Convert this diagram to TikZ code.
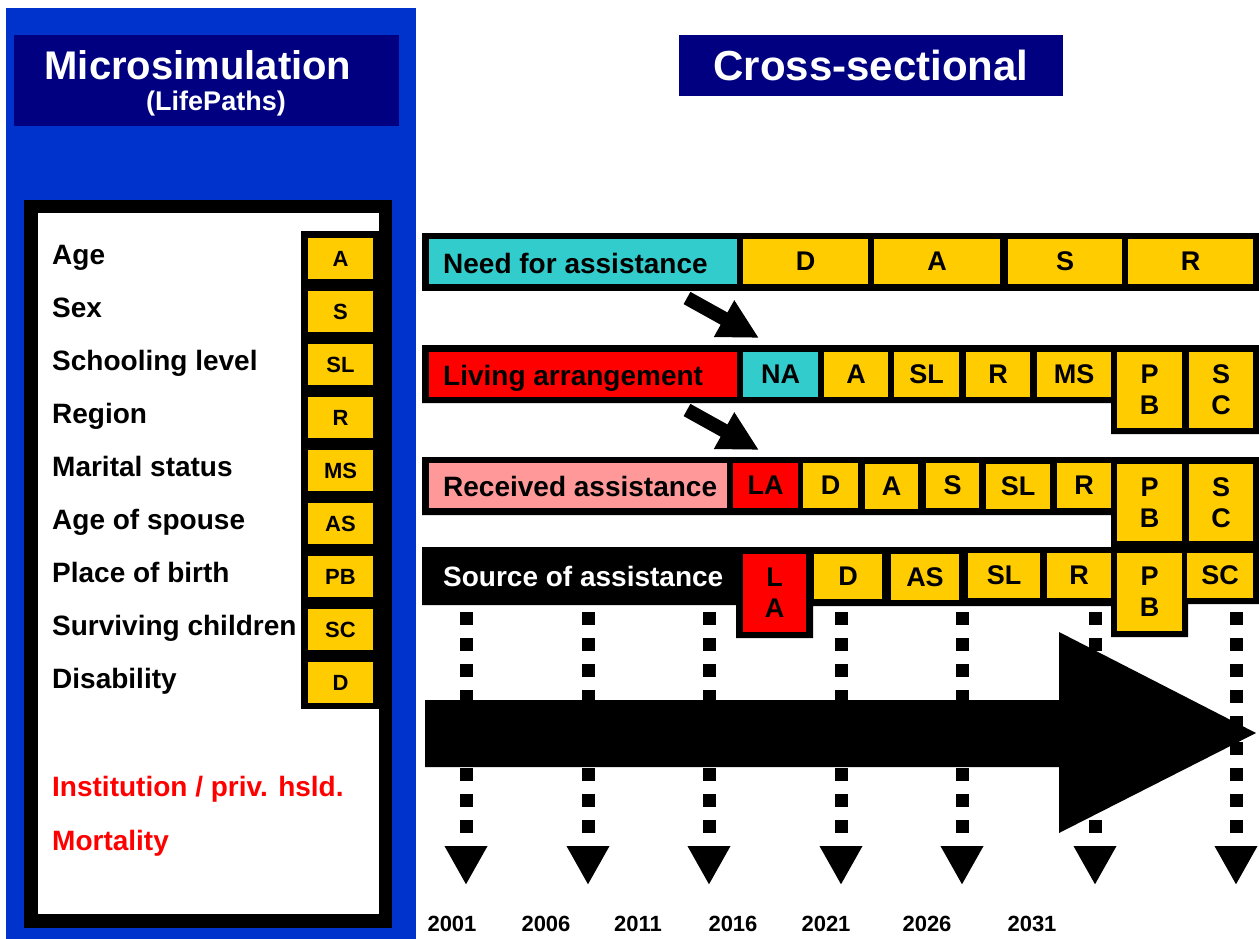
\documentclass[tikz,border=0pt]{standalone}
\usepackage{fontspec}
\setmainfont{Liberation Sans}
\usetikzlibrary{arrows.meta}
\definecolor{panelblue}{RGB}{0,51,204}
\definecolor{titlenavy}{RGB}{0,0,128}
\definecolor{codeyellow}{RGB}{255,204,0}
\definecolor{needteal}{RGB}{51,204,204}
\definecolor{livingred}{RGB}{255,0,0}
\definecolor{receivedpink}{RGB}{255,153,153}
% cell from (x1,y1) to (x2,y2): name, x1, y1, x2, y2, style, text
\newcommand{\cellbox}[7]{%
    \node[#6, minimum width={(#4-#2)*1pt}, minimum height={(#5-#3)*1pt}]
        (#1) at ({(#2+#4)/2},{(#3+#5)/2}) {#7};}

\begin{document}
\begin{tikzpicture}[x=1pt, y=-1pt,
    cell/.style={inner sep=0pt, fill=codeyellow, font=\fontsize{27}{31}\selectfont\bfseries, align=center},
    sidecell/.style={cell, font=\fontsize{22}{25}\selectfont\bfseries},
    varlabel/.style={anchor=base west, inner sep=0pt, font=\fontsize{28}{32}\selectfont\bfseries},
    year/.style={inner sep=0pt, font=\fontsize{22}{26}\selectfont\bfseries},
    timeline/.style={line width=13pt, dash pattern=on 13pt off 13pt, -{Triangle[length=39pt,width=40pt]}},
    pointer/.style={line width=14pt, -{Triangle[length=40pt,width=39pt]}}]
    \useasboundingbox (0,0) rectangle (1259,939);

    % Microsimulation panel
    \fill[panelblue] (6,8) rectangle (416,939);
    \cellbox{microBox}{14}{35}{399}{126}{cell, fill=titlenavy}{}
    \node[text=white, font=\fontsize{40}{48}\selectfont\bfseries] (microTitle) at (198,65) {Microsimulation};
    \node[text=white, font=\fontsize{27}{31}\selectfont\bfseries] (lifePaths) at (216,104) {(LifePaths)};
    \fill[black] (24,200) rectangle (392,928);
    \fill[white] (38,213) rectangle (379,914);
    \fill[black] (301,231) rectangle (379,709);

    \node[varlabel] (ageLab) at (52,264) {Age};
    \cellbox{ageCode}{308}{238}{373}{279}{sidecell}{A}
    \node[varlabel] (sexLab) at (52,317) {Sex};
    \cellbox{sexCode}{308}{291}{373}{332}{sidecell}{S}
    \node[varlabel] (schoolLab) at (52,370) {Schooling level};
    \cellbox{schoolCode}{308}{344}{373}{385}{sidecell}{SL}
    \node[varlabel] (regionLab) at (52,423) {Region};
    \cellbox{regionCode}{308}{397}{373}{438}{sidecell}{R}
    \node[varlabel] (maritalLab) at (52,476) {Marital status};
    \cellbox{maritalCode}{308}{450}{373}{491}{sidecell}{MS}
    \node[varlabel] (spouseLab) at (52,529) {Age of spouse};
    \cellbox{spouseCode}{308}{503}{373}{544}{sidecell}{AS}
    \node[varlabel] (birthLab) at (52,582) {Place of birth};
    \cellbox{birthCode}{308}{556}{373}{597}{sidecell}{PB}
    \node[varlabel] (childLab) at (52,635) {Surviving children};
    \cellbox{childCode}{308}{609}{373}{650}{sidecell}{SC}
    \node[varlabel] (disabLab) at (52,688) {Disability};
    \cellbox{disabCode}{308}{662}{373}{703}{sidecell}{D}

    \node[varlabel, text=livingred] (instLab) at (52,796) {Institution / priv. hsld.};
    \node[varlabel, text=livingred] (mortLab) at (52,850) {Mortality};

    % Cross-sectional side
    \cellbox{crossTitle}{679}{35}{1063}{96}{cell, fill=titlenavy, text=white,
        font=\fontsize{42}{50}\selectfont\bfseries}{Cross-sectional}

    % Need for assistance
    \fill[black] (422,233) rectangle (1259,291);
    \cellbox{needBox}{429}{239}{737}{284}{cell, fill=needteal}{}
    \node[varlabel] (needLab) at (443,273) {Need for assistance};
    \cellbox{needD}{743}{239}{868}{284}{cell}{D}
    \cellbox{needA}{874}{239}{1000}{284}{cell}{A}
    \cellbox{needS}{1008}{239}{1122}{284}{cell}{S}
    \cellbox{needR}{1128}{239}{1253}{284}{cell}{R}

    % Living arrangement
    \fill[black] (422,345) -- (1259,345) -- (1259,434) -- (1111,434) -- (1111,403) -- (422,403) -- cycle;
    \cellbox{livBox}{429}{352}{737}{397}{cell, fill=livingred}{}
    \node[varlabel] (livLab) at (443,385) {Living arrangement};
    \cellbox{livNA}{743}{352}{818}{397}{cell, fill=needteal}{NA}
    \cellbox{livA}{824}{352}{888}{397}{cell}{A}
    \cellbox{livSL}{894}{352}{959}{397}{cell}{SL}
    \cellbox{livR}{966}{352}{1030}{397}{cell}{R}
    \cellbox{livMS}{1037}{352}{1111}{397}{cell}{MS}
    \cellbox{livPB}{1117}{352}{1182}{428}{cell}{P\\B}
    \cellbox{livSC}{1189}{352}{1253}{428}{cell}{S\\C}

    % Received assistance
    \fill[black] (422,457) -- (1259,457) -- (1259,547) -- (1111,547) -- (1111,515) -- (422,515) -- cycle;
    \cellbox{recBox}{429}{463}{727}{508}{cell, fill=receivedpink}{}
    \node[varlabel] (recLab) at (443,496) {Received assistance};
    \cellbox{recLA}{733}{463}{798}{508}{cell, fill=livingred}{LA}
    \cellbox{recD}{803}{463}{858}{508}{cell}{D}
    \cellbox{recA}{865}{464}{918}{509}{cell}{A}
    \cellbox{recS}{926}{463}{979}{508}{cell}{S}
    \cellbox{recSL}{986}{464}{1050}{509}{cell}{SL}
    \cellbox{recR}{1057}{463}{1111}{508}{cell}{R}
    \cellbox{recPB}{1117}{464}{1182}{541}{cell}{P\\B}
    \cellbox{recSC}{1189}{464}{1253}{541}{cell}{S\\C}

    % Source of assistance
    \fill[black] (422,547) -- (1259,547) -- (1259,604) -- (1188,604) -- (1188,637) -- (1111,637)
        -- (1111,606) -- (813,606) -- (813,638) -- (736,638) -- (736,605) -- (422,605) -- cycle;
    \node[varlabel, text=white] (srcLab) at (443,586) {Source of assistance};
    \cellbox{srcLA}{743}{554}{806}{632}{cell, fill=livingred}{L\\A}
    \cellbox{srcD}{814}{554}{882}{599}{cell}{D}
    \cellbox{srcAS}{891}{554}{959}{600}{cell}{AS}
    \cellbox{srcSL}{968}{553}{1040}{598}{cell}{SL}
    \cellbox{srcR}{1047}{553}{1111}{598}{cell}{R}
    \cellbox{srcPB}{1117}{553}{1182}{631}{cell}{P\\B}
    \cellbox{srcSC}{1187}{553}{1253}{598}{cell}{SC}

    % arrows between rows
    \coordinate (needTail) at (687,298);
    \coordinate (needTip) at (759,338);
    \coordinate (livTail) at (687,410);
    \coordinate (livTip) at (759,450);
    \draw[pointer] (needTail) -- (needTip);
    \draw[pointer] (livTail) -- (livTip);

    % time lines
    \coordinate (t1top) at (466,612);  \coordinate (t1end) at (466,885);
    \coordinate (t2top) at (588,612);  \coordinate (t2end) at (588,885);
    \coordinate (t3top) at (709,612);  \coordinate (t3end) at (709,885);
    \coordinate (t4top) at (841,612);  \coordinate (t4end) at (841,885);
    \coordinate (t5top) at (962,612);  \coordinate (t5end) at (962,885);
    \coordinate (t6top) at (1095,612); \coordinate (t6end) at (1095,885);
    \coordinate (t7top) at (1236,612); \coordinate (t7end) at (1236,885);
    \draw[timeline] (t1top) -- (t1end);
    \draw[timeline] (t2top) -- (t2end);
    \draw[timeline] (t3top) -- (t3end);
    \draw[timeline] (t4top) -- (t4end);
    \draw[timeline] (t5top) -- (t5end);
    \draw[timeline] (t6top) -- (t6end);
    \draw[timeline] (t7top) -- (t7end);

    % big time arrow
    \fill[black] (425,700) -- (1059,700) -- (1059,632) -- (1256,733) -- (1059,833) -- (1059,767)
        -- (425,767) -- cycle;

    \node[year] (y2001) at (452,924) {2001};
    \node[year] (y2006) at (546,924) {2006};
    \node[year] (y2011) at (638,924) {2011};
    \node[year] (y2016) at (733,924) {2016};
    \node[year] (y2021) at (826,924) {2021};
    \node[year] (y2026) at (927,924) {2026};
    \node[year] (y2031) at (1032,924) {2031};
\end{tikzpicture}
\end{document}
